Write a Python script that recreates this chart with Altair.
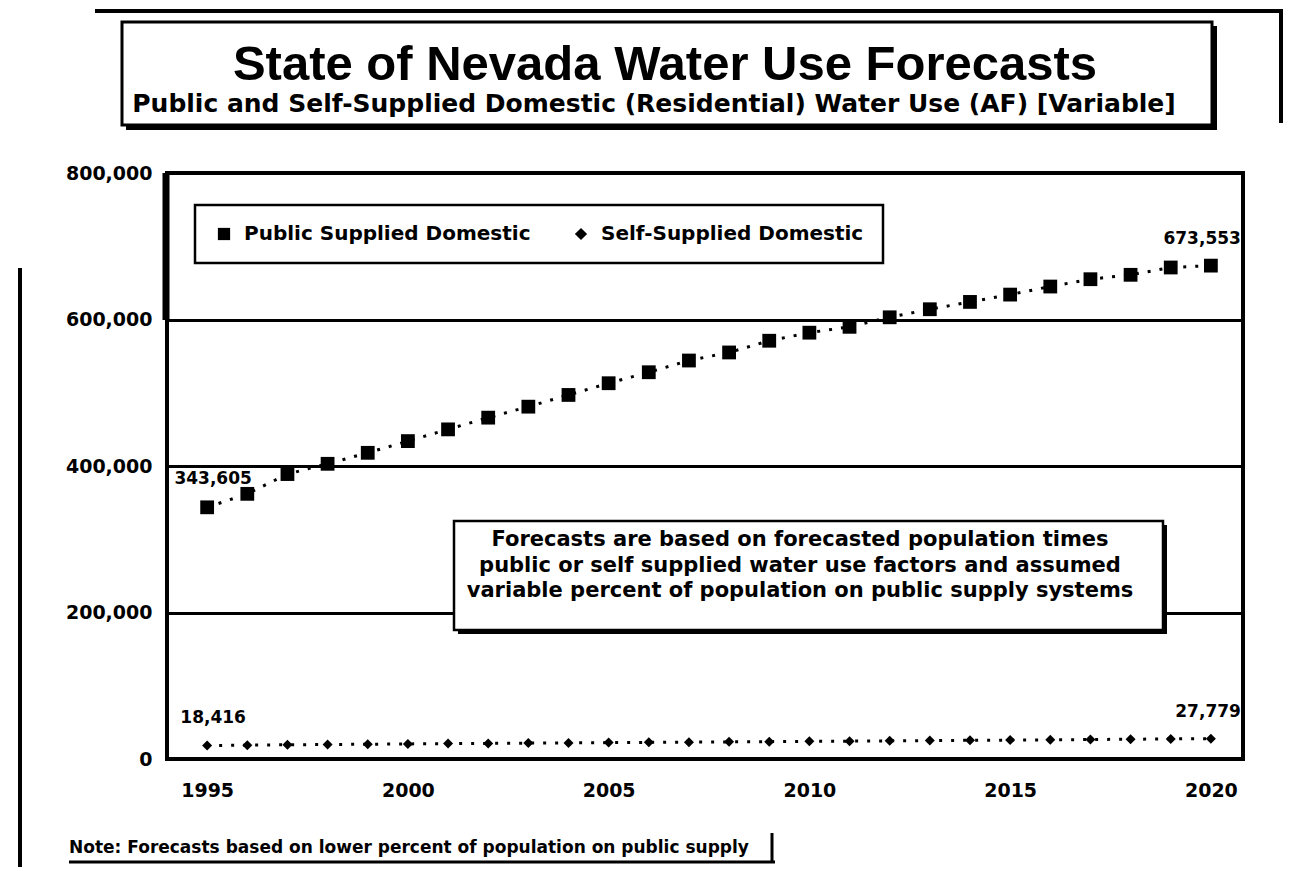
import altair as alt
import pandas as pd

# ---------------- data ----------------
years = list(range(1995, 2021))
public_supplied = [343605, 362000, 389000, 403000, 418000, 434000, 450000, 466000,
                   481000, 497000, 513000, 528000, 544000, 555000, 571000, 582000,
                   590000, 603000, 614000, 624000, 634000, 645000, 655000, 661000,
                   671000, 673553]
self_supplied = [18416, 18900, 19400, 19800, 20200, 20600, 21000, 21300, 21700,
                 22000, 22400, 22700, 23000, 23400, 23700, 24100, 24400, 24800,
                 25100, 25500, 25800, 26200, 26600, 27000, 27400, 27779]
series_names = ["Public Supplied Domestic", "Self-Supplied Domestic"]
x_ticks = [1995, 2000, 2005, 2010, 2015, 2020]
y_ticks = [0, 200000, 400000, 600000, 800000]

title_text = "State of Nevada Water Use Forecasts"
subtitle_text = "Public and Self-Supplied Domestic (Residential) Water Use (AF) [Variable]"
forecast_note = ["Forecasts are based on forecasted population times",
                 "public or self supplied water use factors and assumed",
                 "variable percent of population on public supply systems"]
footnote = "Note: Forecasts based on lower percent of population on public supply"

rows = []
for yr, p, s in zip(years, public_supplied, self_supplied):
    rows.append({"year": yr, "series": series_names[0], "value": p})
    rows.append({"year": yr, "series": series_names[1], "value": s})
df = pd.DataFrame(rows)
first_df = df[df["year"] == years[0]]
last_df = df[df["year"] == years[-1]]
one = pd.DataFrame({"a": [0]})

W, H = 1076, 586
FONT = "DejaVu Sans"

X = alt.X("year:Q",
          scale=alt.Scale(domain=[1994, 2020.8], nice=False, zero=False),
          axis=alt.Axis(values=x_ticks, format="d", title=None, grid=False,
                        ticks=False, domain=False, labelFont=FONT,
                        labelFontWeight="bold", labelFontSize=19,
                        labelColor="black", labelPadding=22))
Y = alt.Y("value:Q",
          scale=alt.Scale(domain=[0, 800000], nice=False),
          axis=alt.Axis(values=y_ticks, format=",d", title=None, grid=True,
                        gridColor="black", gridWidth=3, ticks=False,
                        domain=False, labelFont=FONT, labelFontWeight="bold",
                        labelFontSize=19, labelColor="black", labelPadding=15))

base = alt.Chart(df)

lines = base.mark_line(color="black", strokeWidth=3, strokeDash=[3, 9]).encode(
    x=X, y=Y, detail="series:N")

points = base.mark_point(filled=True, opacity=1, color="black").encode(
    x=X, y=Y,
    shape=alt.Shape("series:N",
                    scale=alt.Scale(domain=series_names, range=["square", "diamond"]),
                    legend=alt.Legend(title=None, orient="none", legendX=28, legendY=32,
                                      direction="horizontal", labelFont=FONT,
                                      labelFontWeight="bold", labelFontSize=20,
                                      labelColor="black", labelLimit=0,
                                      symbolFillColor="black",
                                      symbolStrokeColor="black", strokeColor="black",
                                      fillColor="white", padding=19, columnPadding=40,
                                      labelOffset=10, symbolSize=150)),
    size=alt.condition(alt.datum.series == series_names[0],
                       alt.value(190), alt.value(100)))

first_labels = alt.Chart(first_df).mark_text(
    font=FONT, fontWeight="bold", fontSize=17, color="black",
    align="center", baseline="middle", dx=6, dy=-28).encode(
    x=X, y=Y, text=alt.Text("value:Q", format=",d"))

last_labels = alt.Chart(last_df).mark_text(
    font=FONT, fontWeight="bold", fontSize=17, color="black",
    align="right", baseline="middle", dx=30, dy=-27).encode(
    x=X, y=Y, text=alt.Text("value:Q", format=",d"))

ann = alt.Chart(one)

# title box (shadow + box) above the plot
title_shadow = ann.mark_rect(color="black").encode(
    x=alt.value(-41), x2=alt.value(1050), y=alt.value(-147), y2=alt.value(-43))
title_box = ann.mark_rect(fill="white", stroke="black", strokeWidth=3).encode(
    x=alt.value(-45), x2=alt.value(1045), y=alt.value(-151), y2=alt.value(-48))
title_mark = ann.mark_text(font="Liberation Sans", fontWeight="bold", fontSize=49,
                           color="black", align="center", baseline="alphabetic").encode(
    x=alt.value(498), y=alt.value(-93), text=alt.value(title_text))
subtitle_mark = ann.mark_text(font=FONT, fontWeight="bold", fontSize=25, color="black",
                              align="center", baseline="alphabetic").encode(
    x=alt.value(487), y=alt.value(-61), text=alt.value(subtitle_text))

# left frame thickening at the top of the plot
frame_thick = ann.mark_rule(color="black", strokeWidth=7).encode(
    x=alt.value(-1), y=alt.value(0), y2=alt.value(147))

# forecast explanation box inside the plot
fc_shadow = ann.mark_rect(color="black").encode(
    x=alt.value(291), x2=alt.value(1000), y=alt.value(352), y2=alt.value(461))
fc_box = ann.mark_rect(fill="white", stroke="black", strokeWidth=2.5).encode(
    x=alt.value(287), x2=alt.value(996), y=alt.value(348), y2=alt.value(457))
fc_text = ann.mark_text(font=FONT, fontWeight="bold", fontSize=21, color="black",
                        align="center", baseline="middle", lineHeight=25.5).encode(
    x=alt.value(633), y=alt.value(367), text=alt.value(forecast_note))

# footnote below the chart
note_text = ann.mark_text(font=FONT, fontWeight="bold", fontSize=17, color="black",
                          align="left", baseline="alphabetic").encode(
    x=alt.value(-98), y=alt.value(680), text=alt.value(footnote))
note_bottom = ann.mark_rule(color="black", strokeWidth=3).encode(
    x=alt.value(-98), x2=alt.value(608), y=alt.value(689))
note_right = ann.mark_rule(color="black", strokeWidth=3).encode(
    x=alt.value(605), y=alt.value(660), y2=alt.value(689))

# outer frame pieces of the original graphic
outer_top = ann.mark_rule(color="black", strokeWidth=4).encode(
    x=alt.value(-72), x2=alt.value(1116), y=alt.value(-162))
outer_left = ann.mark_rule(color="black", strokeWidth=4).encode(
    x=alt.value(-147), y=alt.value(95), y2=alt.value(700))
outer_right = ann.mark_rule(color="black", strokeWidth=4).encode(
    x=alt.value(1114), y=alt.value(-162), y2=alt.value(-50))

chart = alt.layer(
    outer_top, outer_left, outer_right,
    title_shadow, title_box, title_mark, subtitle_mark,
    lines, points, frame_thick, fc_shadow, fc_box, fc_text,
    first_labels, last_labels,
    note_text, note_bottom, note_right,
).properties(
    width=W, height=H,
    autosize=alt.AutoSizeParams(type="none"),
    padding={"left": 159, "top": 165, "right": 40, "bottom": 108},
    background="white",
).configure_view(
    stroke="black", strokeWidth=4
).configure_legend(
    strokeWidth=2.5
)

chart.save("out.html", embed_options={"renderer": "svg", "actions": False})
